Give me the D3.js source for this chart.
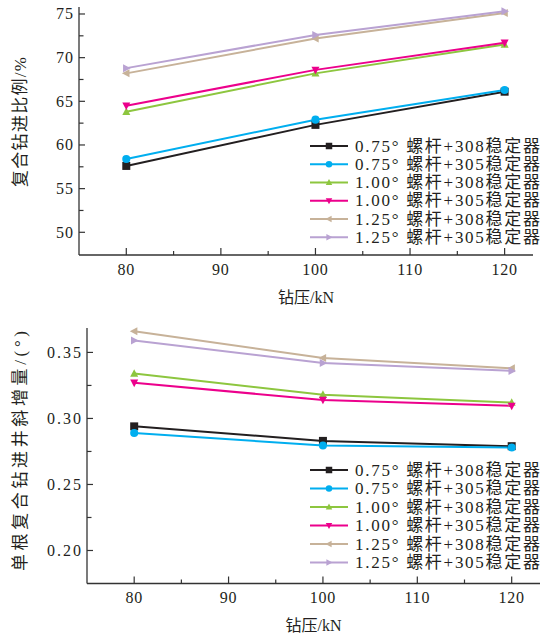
<!DOCTYPE html>
<html><head><meta charset="utf-8">
<script src="https://cdn.jsdelivr.net/npm/d3@7"></script>
<style>
body{margin:0;background:#fff;}
svg{display:block;}
text{font-family:"Liberation Serif","Noto Sans CJK SC",serif;fill:#231f20;}
</style></head>
<body>
<svg id="c" width="542" height="637"></svg>
<script>
const pressures = [80, 100, 120];
const seriesNames = ["0.75° 螺杆+308稳定器","0.75° 螺杆+305稳定器","1.00° 螺杆+308稳定器","1.00° 螺杆+305稳定器","1.25° 螺杆+308稳定器","1.25° 螺杆+305稳定器"];
const seriesColors = ["#231f20","#00aeef","#8dc63f","#ec008c","#c7b299","#b9a2d2"];
const seriesShapes = ["square","circle","up","down","left","right"];
// top chart: 复合钻进比例/%
const ratio075_308 = [57.6, 62.3, 66.1];
const ratio075_305 = [58.4, 62.9, 66.3];
const ratio100_308 = [63.8, 68.2, 71.5];
const ratio100_305 = [64.5, 68.6, 71.7];
const ratio125_308 = [68.2, 72.2, 75.1];
const ratio125_305 = [68.8, 72.6, 75.3];
// bottom chart: 单根复合钻进井斜增量/(°)
const incr075_308 = [0.294, 0.283, 0.279];
const incr075_305 = [0.289, 0.2795, 0.278];
const incr100_308 = [0.334, 0.318, 0.312];
const incr100_305 = [0.327, 0.314, 0.3095];
const incr125_308 = [0.366, 0.3457, 0.338];
const incr125_305 = [0.359, 0.342, 0.336];
const xTicks = [80, 90, 100, 110, 120];
const yTicksTop = [50, 55, 60, 65, 70, 75];
const yTicksBottom = [0.20, 0.25, 0.30, 0.35];

const topSeries = [ratio075_308, ratio075_305, ratio100_308, ratio100_305, ratio125_308, ratio125_305];
const botSeries = [incr075_308, incr075_305, incr100_308, incr100_305, incr125_308, incr125_305];

const svg = d3.select("#c");
const axisColor = "#333";

function markerPath(shape, s) {
  const h = s/2;
  switch (shape) {
    case "square": return `M${-h},${-h}H${h}V${h}H${-h}Z`;
    case "circle": return d3.symbol(d3.symbolCircle, s*s*0.8)();
    case "up": return `M0,${-h*1.1}L${h},${h*0.8}L${-h},${h*0.8}Z`;
    case "down": return `M0,${h*1.1}L${h},${-h*0.8}L${-h},${-h*0.8}Z`;
    case "left": return `M${-h*1.1},0L${h*0.8},${-h}L${h*0.8},${h}Z`;
    case "right": return `M${h*1.1},0L${-h*0.8},${-h}L${-h*0.8},${h}Z`;
  }
}

function drawChart(cfg) {
  const g = svg.append("g");
  const x = d3.scaleLinear().domain([75, 123]).range([cfg.left, cfg.right]);
  const y = d3.scaleLinear().domain(cfg.yDomain).range([cfg.bottom, cfg.top]);

  // axis lines
  g.append("line").attr("x1", cfg.left).attr("x2", cfg.left).attr("y1", cfg.top).attr("y2", cfg.bottom)
    .attr("stroke", axisColor).attr("stroke-width", 1.3);
  g.append("line").attr("x1", cfg.left).attr("x2", cfg.right).attr("y1", cfg.bottom).attr("y2", cfg.bottom)
    .attr("stroke", axisColor).attr("stroke-width", 1.3);

  // x ticks (inward)
  const xMinor = d3.range(80, 121, 5);
  xMinor.forEach(v => {
    const major = v % 10 === 0;
    g.append("line").attr("x1", x(v)).attr("x2", x(v)).attr("y1", cfg.bottom).attr("y2", cfg.bottom - (major ? 7 : 4))
      .attr("stroke", axisColor).attr("stroke-width", 1.2);
  });
  xTicks.forEach(v => {
    g.append("text").attr("x", x(v)).attr("y", cfg.bottom + cfg.xLabelOff)
      .attr("text-anchor", "middle").attr("dominant-baseline", "central")
      .attr("font-size", 16).attr("letter-spacing", 0.8).text(v);
  });
  // y ticks
  cfg.yMinor.forEach((v, i) => {
    const major = cfg.yTicks.some(t => Math.abs(t - v) < 1e-9);
    g.append("line").attr("x1", cfg.left).attr("x2", cfg.left + (major ? 6 : 4.5)).attr("y1", y(v)).attr("y2", y(v))
      .attr("stroke", axisColor).attr("stroke-width", 1.2);
  });
  cfg.yTicks.forEach(v => {
    const t = cfg.fmt(v);
    g.append("text").attr("x", cfg.left - 5).attr("y", y(v))
      .attr("text-anchor", "end").attr("dominant-baseline", "central")
      .attr("font-size", 16).attr("letter-spacing", 1)
      .attr("textLength", cfg.tickLen(t)).attr("lengthAdjust", "spacing").text(t);
  });

  // axis titles
  g.append("text").attr("x", (cfg.left + cfg.right)/2).attr("y", cfg.xTitleY)
    .attr("text-anchor", "middle").attr("dominant-baseline", "central").attr("font-size", 16).text("钻压/kN");
  g.append("text").attr("transform", `translate(20,${cfg.yTitleY}) rotate(-90)`)
    .attr("text-anchor", "middle").attr("dominant-baseline", "central").attr("font-size", 17)
    .attr("textLength", cfg.yTitleLen).attr("lengthAdjust", "spacing").text(cfg.yTitle);

  // series
  const line = d3.line().x((d, i) => x(pressures[i])).y(d => y(d));
  cfg.series.forEach((vals, k) => {
    g.append("path").attr("d", line(vals)).attr("fill", "none")
      .attr("stroke", seriesColors[k]).attr("stroke-width", 2);
  });
  cfg.series.forEach((vals, k) => {
    vals.forEach((v, i) => {
      g.append("path").attr("d", markerPath(seriesShapes[k], 8))
        .attr("transform", `translate(${x(pressures[i])},${y(v)})`)
        .attr("fill", seriesColors[k]);
    });
  });

  // legend
  seriesNames.forEach((name, k) => {
    const ly = cfg.legendY + k * cfg.legendStep;
    g.append("line").attr("x1", 310).attr("x2", 348).attr("y1", ly).attr("y2", ly)
      .attr("stroke", seriesColors[k]).attr("stroke-width", 2);
    g.append("path").attr("d", markerPath(seriesShapes[k], 6.5))
      .attr("transform", `translate(329,${ly})`).attr("fill", seriesColors[k]);
    g.append("text").attr("x", 355).attr("y", ly).attr("dominant-baseline", "central")
      .attr("font-size", 17).attr("textLength", 185).attr("lengthAdjust", "spacing").text(name);
  });
}

drawChart({
  left: 79, right: 533, top: 7, bottom: 255,
  yDomain: [47.4, 75.8],
  yTicks: yTicksTop,
  yMinor: d3.range(50, 75.01, 2.5),
  fmt: v => String(v),
  tickLen: t => 18,
  xLabelOff: 14, xTitleY: 297,
  yTitle: "复合钻进比例/%", yTitleY: 122, yTitleLen: 130,
  series: topSeries,
  legendY: 146, legendStep: 18.25
});

drawChart({
  left: 87, right: 540, top: 328, bottom: 583.5,
  yDomain: [0.175, 0.3685],
  yTicks: yTicksBottom,
  yMinor: d3.range(0.2, 0.3501, 0.025),
  fmt: v => v.toFixed(2),
  tickLen: t => 35,
  xLabelOff: 14, xTitleY: 625,
  yTitle: "单根复合钻进井斜增量/(°)", yTitleY: 451, yTitleLen: 240,
  series: botSeries,
  legendY: 470, legendStep: 18.5
});
</script>
</body></html>
